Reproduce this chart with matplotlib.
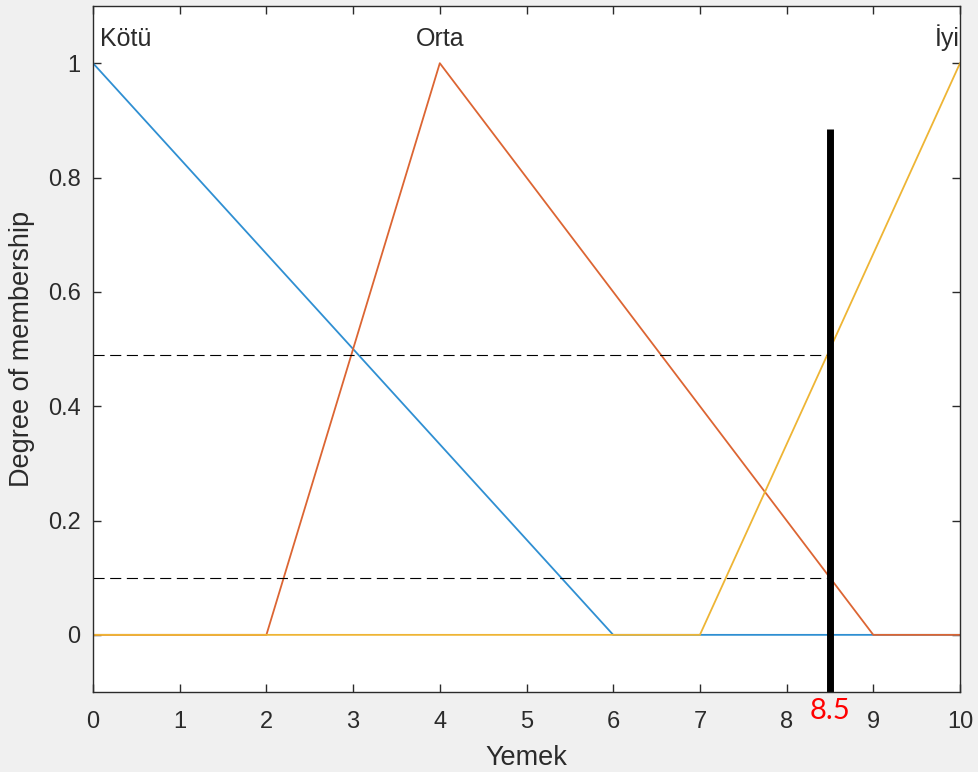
import matplotlib.pyplot as plt

# membership functions for "Yemek"
x_kotu = [0, 6, 10]
y_kotu = [1, 0, 0]
x_orta = [0, 2, 4, 9, 10]
y_orta = [0, 0, 1, 0, 0]
x_iyi = [0, 7, 10]
y_iyi = [0, 0, 1]

mf_names = ['Kötü', 'Orta', 'İyi']
label_x = [0.08, 4, 10]

input_value = 8.5
cut_levels = [0.49, 0.1]
marker_top = 0.885

xticks = list(range(0, 11))
yticks = [0, 0.2, 0.4, 0.6, 0.8, 1]
ytick_labels = ['0', '0.2', '0.4', '0.6', '0.8', '1']

plt.rcParams['font.family'] = ['Liberation Sans', 'DejaVu Sans']
txt = '#2b2b2b'

fig = plt.figure(figsize=(9.79, 7.72), dpi=100, facecolor='#f0f0f0')
ax = fig.add_axes([0.095, 0.1036, 0.8856, 0.8886])

ax.plot(x_kotu, y_kotu, color='#2f8fd2', lw=1.3)
ax.plot(x_orta, y_orta, color='#dc6533', lw=1.3)
ax.plot(x_iyi, y_iyi, color='#eeb535', lw=1.3)

for lvl in cut_levels:
    ax.plot([0, input_value], [lvl, lvl], color='black', lw=0.8, ls=(0, (10, 5)))
ax.plot([input_value, input_value], [-0.1, marker_top], color='black', lw=5,
        solid_capstyle='butt')

ha = ['left', 'center', 'right']
for name, lx, h in zip(mf_names, label_x, ha):
    ax.text(lx, 1.03, name, ha=h, va='baseline', fontsize=18, color=txt)

ax.set_xlim(0, 10)
ax.set_ylim(-0.1, 1.1)
ax.set_xticks(xticks)
ax.set_yticks(yticks)
ax.set_yticklabels(ytick_labels)
ax.tick_params(direction='in', top=True, right=True, length=6, width=1,
               colors=txt, labelsize=17)
ax.tick_params(axis='x', pad=14)
ax.tick_params(axis='y', pad=9)
for s in ax.spines.values():
    s.set_color(txt)
    s.set_linewidth(1)

ax.set_xlabel('Yemek', fontsize=19.5, color=txt, labelpad=8)
ax.set_ylabel('Degree of membership', fontsize=19.5, color=txt, labelpad=9)

ax.text(input_value, -0.11, '8.5', transform=ax.transData, ha='center', va='top',
        fontsize=21, color='red', family=['Lato', 'DejaVu Sans'])

fig.savefig('out.png', dpi=100, facecolor=fig.get_facecolor())
